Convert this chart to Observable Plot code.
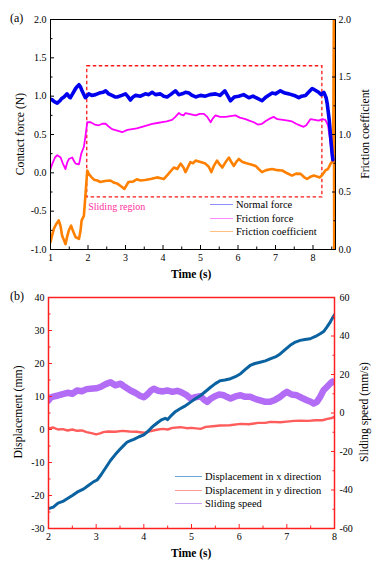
<!DOCTYPE html>
<html>
<head>
<meta charset="utf-8">
<script src="https://cdn.jsdelivr.net/npm/d3@7"></script>
<script src="https://cdn.jsdelivr.net/npm/@observablehq/plot@0.6"></script>
<style>
  body { margin: 0; background: #fff; }
  #root { position: relative; width: 375px; height: 568px; overflow: hidden; font-family: "Liberation Serif", "Times New Roman", serif; color: #000; }
  #root svg, #root svg text { font-family: "Liberation Serif", "Times New Roman", serif !important; }
  .panel { position: absolute; left: 0; }
  .t { position: absolute; white-space: nowrap; font-family: "Liberation Serif", serif; }
  .vt { position: absolute; white-space: nowrap; transform: translate(-50%, -50%) rotate(-90deg); font-family: "Liberation Serif", serif; }
  .leg { position: absolute; font-size: 10.5px; line-height: 13.5px; font-family: "Liberation Serif", serif; }
  .leg div { position: relative; height: 13.5px; white-space: nowrap; }
  .leg span.ln { display: inline-block; vertical-align: middle; height: 1px; margin-right: 3px; position: relative; top: -1px; }
</style>
</head>
<body>
<div id="root"></div>
<script>
// ---------- Panel (a) data ----------
const normalT = [1.00,1.05,1.10,1.18,1.25,1.30,1.36,1.44,1.50,1.53,1.60,1.67,1.72,1.76,1.80,1.84,1.90,1.93,1.97,2.02,2.10,2.20,2.30,2.40,2.47,2.55,2.64,2.72,2.78,2.90,3.00,3.07,3.13,3.20,3.27,3.40,3.53,3.62,3.71,3.80,3.93,4.02,4.11,4.20,4.33,4.42,4.51,4.60,4.69,4.78,4.87,5.00,5.13,5.25,5.40,5.52,5.65,5.72,5.80,5.90,6.02,6.15,6.29,6.40,6.52,6.64,6.75,6.91,7.00,7.13,7.25,7.36,7.50,7.62,7.70,7.80,7.90,7.98,8.05,8.15,8.22,8.29,8.35,8.38,8.43,8.47,8.51,8.53];
const normalForce = [0.96,0.95,0.93,0.91,0.94,0.97,0.99,1.03,0.99,0.98,1.04,1.10,1.13,1.15,1.12,1.07,1.01,0.98,1.00,1.03,1.01,1.02,1.04,1.05,1.07,1.03,1.01,0.99,0.99,1.01,1.03,0.99,0.95,0.99,1.01,1.00,1.03,1.02,1.05,1.02,1.03,1.00,0.99,1.02,1.07,1.02,1.03,1.05,1.04,1.01,0.99,1.01,1.00,1.02,1.03,1.01,1.07,1.01,0.94,0.99,1.00,1.02,0.98,1.00,0.97,0.94,0.99,1.04,1.03,1.07,1.04,1.03,1.01,0.98,1.00,1.01,1.06,1.10,1.08,1.05,1.02,1.05,0.98,0.90,0.70,0.47,0.25,0.17];

const frictionT = [1.00,1.05,1.12,1.18,1.27,1.33,1.40,1.45,1.49,1.58,1.63,1.67,1.76,1.82,1.89,1.93,1.98,2.07,2.18,2.29,2.38,2.47,2.56,2.64,2.78,2.91,3.05,3.18,3.30,3.44,3.58,3.71,3.85,3.98,4.10,4.24,4.33,4.42,4.48,4.55,4.60,4.69,4.78,4.87,4.98,5.09,5.18,5.27,5.33,5.40,5.52,5.67,5.80,5.93,6.05,6.20,6.30,6.42,6.53,6.64,6.75,6.86,6.95,7.05,7.20,7.33,7.44,7.55,7.65,7.75,7.82,7.93,8.05,8.15,8.25,8.33,8.40,8.45,8.50,8.53];
const frictionForce = [0.05,0.12,0.20,0.23,0.20,0.12,0.05,0.14,0.18,0.20,0.15,0.12,0.11,0.25,0.34,0.47,0.66,0.66,0.63,0.62,0.64,0.64,0.60,0.57,0.55,0.53,0.56,0.57,0.58,0.60,0.62,0.64,0.65,0.66,0.67,0.69,0.73,0.78,0.76,0.75,0.78,0.77,0.76,0.75,0.77,0.77,0.73,0.66,0.71,0.75,0.73,0.73,0.74,0.75,0.72,0.70,0.68,0.66,0.63,0.64,0.68,0.71,0.73,0.70,0.69,0.68,0.67,0.64,0.62,0.60,0.62,0.70,0.69,0.68,0.70,0.69,0.62,0.45,0.25,0.17];

const coefT = [1.00,1.04,1.09,1.15,1.22,1.27,1.31,1.36,1.40,1.45,1.49,1.55,1.60,1.67,1.72,1.76,1.80,1.83,1.89,1.93,1.98,2.02,2.09,2.16,2.25,2.33,2.45,2.60,2.70,2.78,2.88,2.97,3.08,3.20,3.30,3.40,3.52,3.67,3.84,3.94,4.02,4.15,4.29,4.38,4.47,4.55,4.60,4.73,4.80,4.87,5.00,5.13,5.22,5.29,5.36,5.44,5.51,5.58,5.67,5.76,5.82,5.89,5.95,6.02,6.12,6.25,6.35,6.47,6.55,6.64,6.75,6.91,7.05,7.18,7.30,7.44,7.55,7.67,7.76,7.84,7.92,8.02,8.10,8.18,8.25,8.33,8.40,8.47,8.52,8.545,8.555,8.565,8.575,8.585,8.595,8.60];
const frictionCoef = [0.063,0.12,0.18,0.22,0.253,0.20,0.12,0.08,0.047,0.12,0.167,0.207,0.16,0.107,0.10,0.093,0.16,0.253,0.293,0.467,0.687,0.658,0.63,0.607,0.60,0.587,0.595,0.60,0.58,0.573,0.55,0.527,0.587,0.59,0.61,0.60,0.605,0.613,0.627,0.62,0.613,0.66,0.713,0.70,0.747,0.71,0.673,0.76,0.75,0.773,0.76,0.747,0.72,0.673,0.73,0.773,0.74,0.713,0.76,0.80,0.76,0.727,0.76,0.787,0.76,0.747,0.74,0.727,0.70,0.673,0.69,0.70,0.69,0.687,0.665,0.643,0.66,0.658,0.63,0.613,0.63,0.643,0.635,0.627,0.65,0.687,0.70,0.747,0.767,1.2,2.0,0.0,2.0,0.0,2.0,0.0];

const regionX = [1.98, 8.25];
const regionY = [-0.32, 1.39];

const xTicksA = [1,2,3,4,5,6,7,8];
const xMinorA = [1.5,2.5,3.5,4.5,5.5,6.5,7.5,8.5];
const yTicksA = [-1.0,-0.5,0.0,0.5,1.0,1.5,2.0];
const yMinorA = [-0.75,-0.25,0.25,0.75,1.25,1.75];
const coefTicks = [0.0,0.5,1.0,1.5,2.0];
const coefMinor = [0.25,0.75,1.25,1.75];

// ---------- Panel (b) data ----------
const dispXT = [2.00,2.10,2.20,2.30,2.39,2.50,2.60,2.74,2.85,2.95,3.02,3.10,3.20,3.30,3.40,3.50,3.58,3.65,3.72,3.79,3.90,4.00,4.07,4.15,4.22,4.30,4.38,4.45,4.50,4.58,4.66,4.75,4.85,4.98,5.08,5.19,5.30,5.40,5.50,5.60,5.70,5.82,5.92,6.03,6.13,6.23,6.33,6.44,6.55,6.65,6.76,6.86,6.97,7.07,7.18,7.28,7.38,7.49,7.60,7.70,7.78,7.84,7.90,7.95,8.00];
const dispX = [-24.0,-23.5,-22.3,-21.8,-21.0,-20.0,-19.0,-18.0,-16.8,-15.8,-15.3,-13.8,-11.6,-9.4,-7.6,-6.0,-4.8,-3.8,-3.4,-3.0,-2.2,-1.6,-0.8,0.4,1.3,2.2,3.0,3.4,3.0,4.3,5.4,6.2,7.0,8.3,9.3,10.3,11.6,12.8,13.9,14.8,15.0,15.4,16.0,16.9,18.2,19.4,20.0,20.4,20.8,21.4,22.0,22.9,24.3,25.5,26.5,27.0,27.3,27.5,28.2,29.0,29.8,31.0,32.3,33.6,34.8];

const dispYT = [2.00,2.10,2.20,2.30,2.40,2.50,2.60,2.70,2.80,2.90,3.00,3.08,3.15,3.25,3.40,3.55,3.70,3.85,4.00,4.10,4.20,4.30,4.40,4.50,4.60,4.77,4.90,5.00,5.19,5.30,5.45,5.60,5.80,6.03,6.20,6.40,6.55,6.65,6.86,7.00,7.15,7.28,7.45,7.60,7.75,7.85,7.92,8.00];
const dispY = [0.3,0.6,0.0,0.1,-0.3,0.0,-0.4,-0.3,-0.8,-1.1,-1.5,-1.2,-0.8,-0.6,-0.7,-0.4,-0.6,-0.7,-1.0,-0.6,-0.3,0.0,0.2,0.0,0.5,0.7,0.4,0.5,0.2,0.8,1.0,1.2,1.3,1.7,1.6,2.0,2.0,2.3,2.2,2.4,2.6,2.7,2.6,2.8,2.8,3.2,3.4,3.8];

const speedT = [2.00,2.04,2.10,2.20,2.30,2.40,2.50,2.60,2.70,2.80,2.88,3.00,3.09,3.20,3.30,3.40,3.51,3.60,3.72,3.82,3.92,4.00,4.08,4.15,4.21,4.30,4.40,4.49,4.60,4.70,4.77,4.88,4.98,5.08,5.19,5.26,5.33,5.40,5.47,5.58,5.68,5.75,5.82,5.92,6.03,6.13,6.23,6.33,6.44,6.55,6.65,6.75,6.86,6.94,7.00,7.10,7.21,7.32,7.42,7.50,7.56,7.63,7.70,7.77,7.85,7.91,7.96,8.00];
const slidingSpeed = [6.5,8.0,8.5,9.1,9.8,10.5,10.0,11.7,11.3,12.4,12.6,12.8,13.5,15.0,16.0,14.4,15.2,13.6,11.7,10.5,9.0,8.2,9.8,11.7,12.6,11.6,11.2,11.7,11.0,11.5,11.0,9.6,7.5,8.2,8.7,7.0,5.8,7.4,8.4,9.6,9.2,8.3,7.5,8.6,9.2,8.4,8.4,7.4,6.6,5.8,5.8,6.8,8.4,10.0,11.0,9.6,9.2,7.8,6.6,5.8,4.9,5.8,8.4,11.8,13.8,15.3,16.4,16.0];

const xTicksB = [2,3,4,5,6,7,8];
const xMinorB = [2.5,3.5,4.5,5.5,6.5,7.5];
const yTicksB = [-30,-20,-10,0,10,20,30,40];
const yMinorB = [-25,-15,-5,5,15,25,35];
const speedTicks = [-60,-40,-20,0,20,40,60];
const speedMinor = [-50,-30,-10,10,30,50];

// ---------- helpers ----------
const yDomA = [-1, 2], coefDom = [0, 2];
const coefToY = d3.scaleLinear().domain(coefDom).range(yDomA);
const yDomB = [-30, 40], speedDom = [-60, 60];
const speedToY = d3.scaleLinear().domain(speedDom).range(yDomB);
const zip = (xs, ys, f = v => v) => xs.map((x, i) => ({x, y: f(ys[i])}));

const root = document.getElementById("root");
const fontStyle = "font-family: 'Liberation Serif', 'Times New Roman', serif; font-size: 10px; background: transparent; overflow: visible;";

// ---------- Panel (a) ----------
const chartA = Plot.plot({
  width: 375, height: 285,
  marginTop: 19, marginBottom: 36, marginLeft: 50, marginRight: 40,
  style: fontStyle,
  x: {domain: [1, 8.6]},
  y: {domain: yDomA},
  marks: [
    Plot.rect([0], {x1: () => regionX[0], x2: () => regionX[1], y1: () => regionY[0], y2: () => regionY[1], fill: "none", stroke: "#ff1a1a", strokeWidth: 1.3, strokeDasharray: "3.5,2.5"}),
    Plot.line(zip(coefT, frictionCoef, coefToY), {x: "x", y: "y", stroke: "#ff8000", strokeWidth: 2.6, clip: true}),
    Plot.line(zip(frictionT, frictionForce), {x: "x", y: "y", stroke: "#ff00ff", strokeWidth: 1.8, clip: true}),
    Plot.line(zip(normalT, normalForce), {x: "x", y: "y", stroke: "#0000ee", strokeWidth: 3.6, clip: true}),
    Plot.text(["Sliding region"], {x: () => regionX[0], y: () => regionY[0], text: d => d, textAnchor: "start", dx: 1, dy: 9, fill: "#ff2fa0", fontSize: 10}),
    Plot.frame({stroke: "#000", strokeWidth: 1}),
    Plot.axisX(xTicksA, {anchor: "bottom", tickSize: -4, tickPadding: 8, tickFormat: d => String(d), label: null}),
    Plot.axisX(xMinorA, {anchor: "bottom", tickSize: -2.5, tickFormat: () => "", label: null}),
    Plot.axisY(yTicksA, {anchor: "left", tickSize: -4, tickPadding: 8, tickFormat: d => d.toFixed(1), label: null}),
    Plot.axisY(yMinorA, {anchor: "left", tickSize: -2.5, tickFormat: () => "", label: null}),
    Plot.axisY(coefTicks.map(c => coefToY(c)), {anchor: "right", tickSize: -4, tickPadding: 7, tickFormat: d => coefToY.invert(d).toFixed(1), label: null}),
    Plot.axisY(coefMinor.map(c => coefToY(c)), {anchor: "right", tickSize: -2.5, tickFormat: () => "", label: null})
  ]
});
chartA.classList.add("panel");
chartA.style.top = "0px";
root.appendChild(chartA);

// ---------- Panel (b) ----------
const chartB = Plot.plot({
  width: 375, height: 283,
  marginTop: 12, marginBottom: 40, marginLeft: 48, marginRight: 41,
  style: fontStyle,
  x: {domain: [2, 8]},
  y: {domain: yDomB},
  marks: [
    Plot.line(zip(speedT, slidingSpeed, speedToY), {x: "x", y: "y", stroke: "#b36cf5", strokeWidth: 6.5, clip: true}),
    Plot.line(zip(dispYT, dispY), {x: "x", y: "y", stroke: "#ff5c5c", strokeWidth: 2.4, clip: true}),
    Plot.line(zip(dispXT, dispX), {x: "x", y: "y", stroke: "#0a62a0", strokeWidth: 3, clip: true}),
    Plot.frame({stroke: "#ff2020", strokeWidth: 1.5}),
    Plot.axisX(xTicksB, {anchor: "bottom", stroke: "#ff2020", tickSize: -4, tickPadding: 8, tickFormat: d => String(d), label: null}),
    Plot.axisX(xMinorB, {anchor: "bottom", stroke: "#ff2020", tickSize: -2.5, tickFormat: () => "", label: null}),
    Plot.axisY(yTicksB, {anchor: "left", stroke: "#ff2020", tickSize: -4, tickPadding: 8, tickFormat: d => String(d), label: null}),
    Plot.axisY(yMinorB, {anchor: "left", stroke: "#ff2020", tickSize: -2.5, tickFormat: () => "", label: null}),
    Plot.axisY(speedTicks.map(s => speedToY(s)), {anchor: "right", stroke: "#ff2020", tickSize: -4, tickPadding: 9, tickFormat: d => String(Math.round(speedToY.invert(d))), label: null}),
    Plot.axisY(speedMinor.map(s => speedToY(s)), {anchor: "right", stroke: "#ff2020", tickSize: -2.5, tickFormat: () => "", label: null})
  ]
});
chartB.classList.add("panel");
chartB.style.top = "285px";
root.appendChild(chartB);

// ---------- Texts ----------
function addText(cls, txt, css) {
  const el = document.createElement("div");
  el.className = cls;
  el.textContent = txt;
  Object.assign(el.style, css);
  root.appendChild(el);
  return el;
}
addText("t", "(a)", {left: "10px", top: "11px", fontSize: "12px"});
addText("t", "(b)", {left: "10px", top: "289px", fontSize: "12px"});
addText("vt", "Contact force (N)", {left: "20px", top: "134px", fontSize: "11.7px"});
addText("vt", "Friction coefficient", {left: "365px", top: "134px", fontSize: "11.7px"});
addText("t", "Time (s)", {left: "171px", top: "268px", fontSize: "11.5px", fontWeight: "bold"});
addText("vt", "Displacement (mm)", {left: "18px", top: "412px", fontSize: "11.7px"});
addText("vt", "Sliding speed (mm/s)", {left: "364px", top: "412px", fontSize: "11.7px"});
addText("t", "Time (s)", {left: "171px", top: "547px", fontSize: "11.5px", fontWeight: "bold"});

// ---------- Legends ----------
const legendA = [["Normal force", "#8f8fff"], ["Friction force", "#ff8cff"], ["Friction coefficient", "#ffbf80"]];
const legendB = [["Displacement in x direction", "#6aa6dc"], ["Displacement in y direction", "#ff9a9a"], ["Sliding speed", "#c9a3f2"]];
function addLegend(items, left, top, lineW) {
  const box = document.createElement("div");
  box.className = "leg";
  box.style.left = left + "px";
  box.style.top = top + "px";
  for (const [name, color] of items) {
    const row = document.createElement("div");
    const ln = document.createElement("span");
    ln.className = "ln";
    ln.style.width = lineW + "px";
    ln.style.background = color;
    row.appendChild(ln);
    row.appendChild(document.createTextNode(name));
    box.appendChild(row);
  }
  root.appendChild(box);
}
addLegend(legendA, 210, 198, 23);
addLegend(legendB, 175, 470, 27);
</script>
</body>
</html>
